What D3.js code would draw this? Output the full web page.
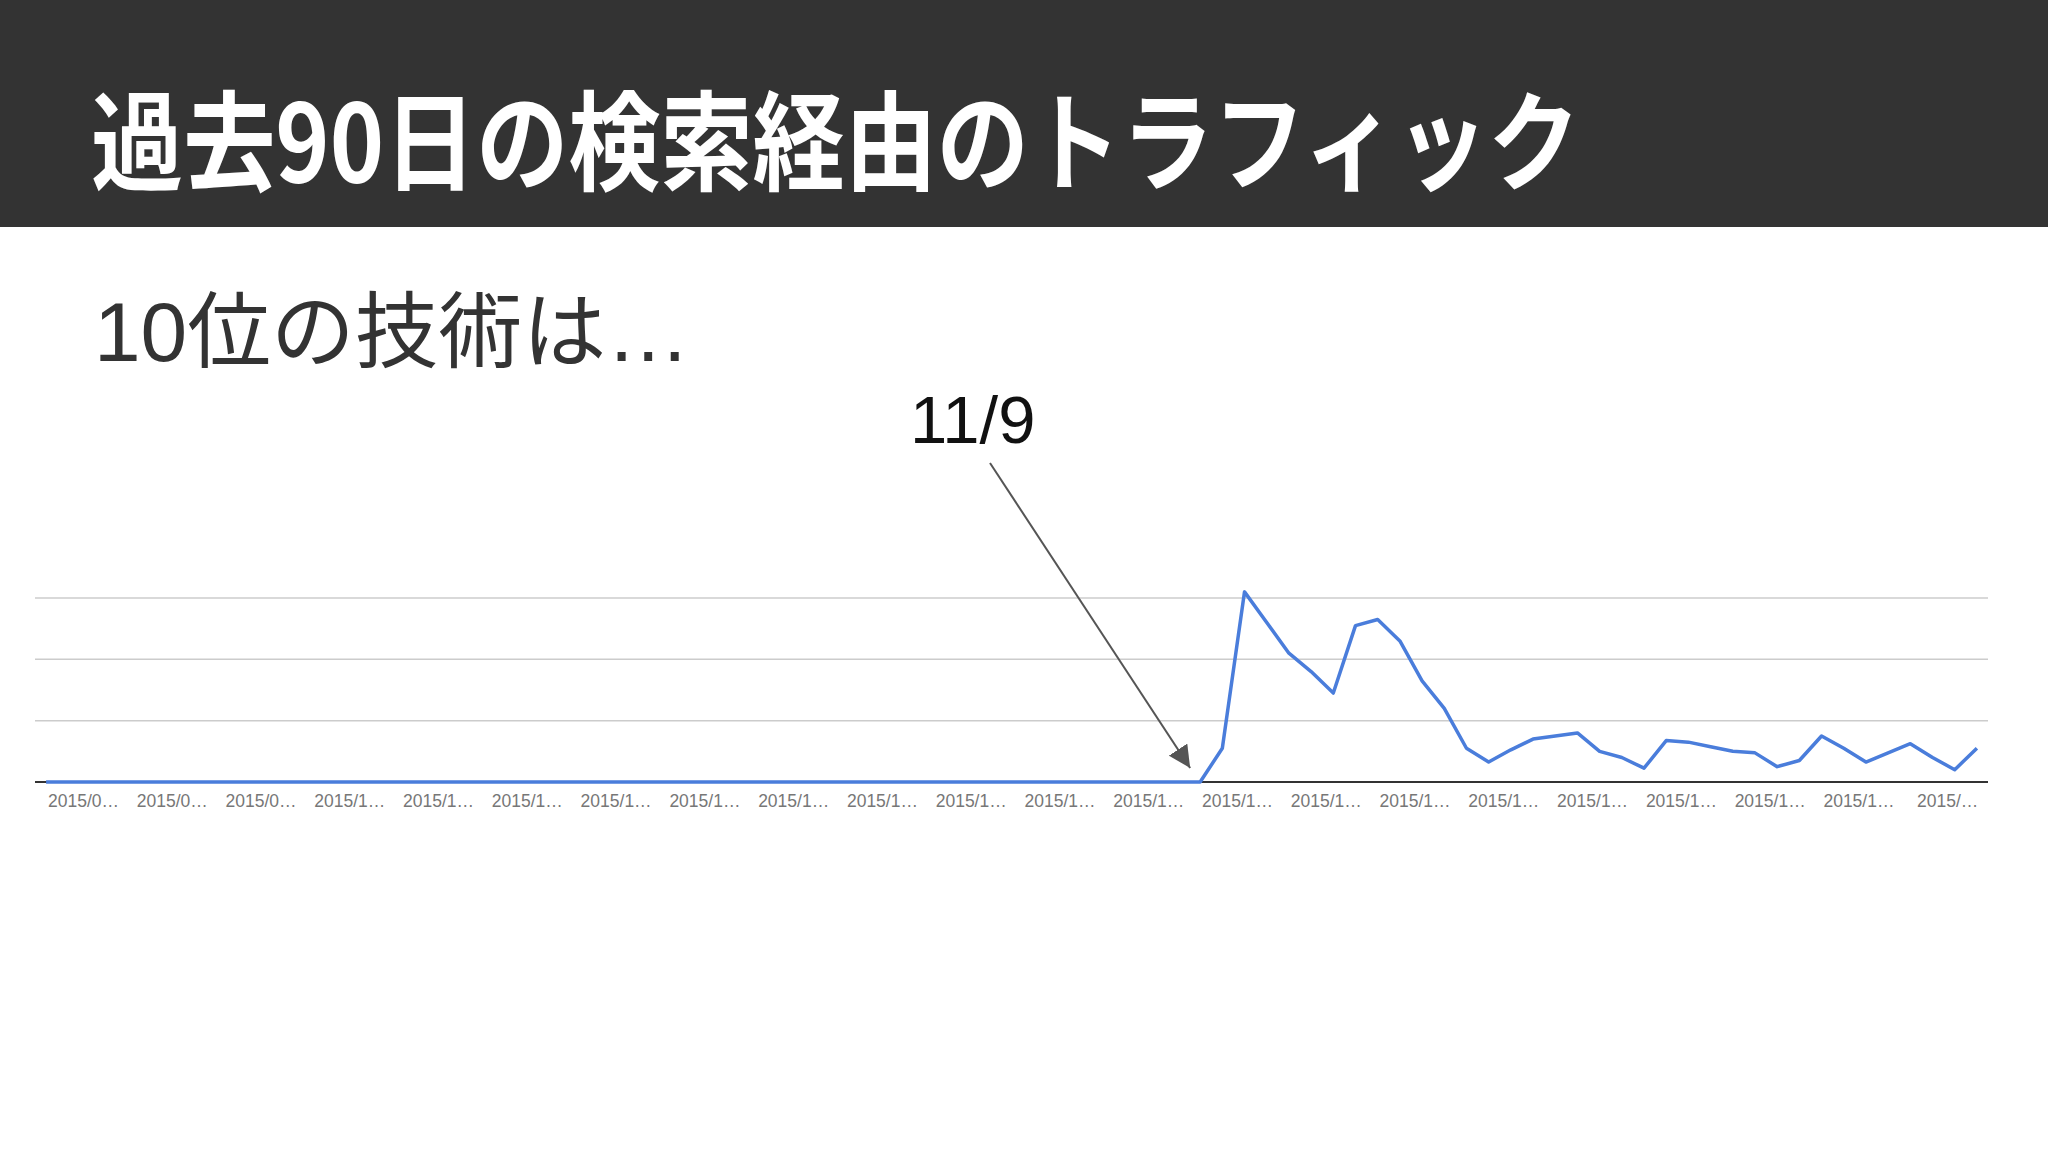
<!DOCTYPE html>
<html>
<head>
<meta charset="utf-8">
<script src="https://cdn.jsdelivr.net/npm/d3@7"></script>
<style>
body { margin: 0; background: #fff; }
</style>
</head>
<body>
<div id="mainArea"></div>
<script>
// slide texts
var titleText = "過去90日の検索経由のトラフィック";
var subText = "10位の技術は…";
var noteText = "11/9";

// daily search traffic, 88 days (zero until 11/9)
var visits = [
  0, 0, 0, 0, 0, 0, 0, 0, 0, 0,
  0, 0, 0, 0, 0, 0, 0, 0, 0, 0,
  0, 0, 0, 0, 0, 0, 0, 0, 0, 0,
  0, 0, 0, 0, 0, 0, 0, 0, 0, 0,
  0, 0, 0, 0, 0, 0, 0, 0, 0, 0,
  0, 0, 0, 11, 62, 52, 42, 36, 29, 51,
  53, 46, 33, 24, 11, 6.5, 10.5, 14, 15, 16,
  10, 8, 4.5, 13.5, 13, 11.5, 10, 9.5, 5, 7,
  15, 11, 6.5, 9.5, 12.5, 8, 4, 11
];

// tick labels, one every 4 days (already cut off like in analytics)
var tickLabels = [
  "2015/0…", "2015/0…", "2015/0…", "2015/1…", "2015/1…", "2015/1…",
  "2015/1…", "2015/1…", "2015/1…", "2015/1…", "2015/1…", "2015/1…",
  "2015/1…", "2015/1…", "2015/1…", "2015/1…", "2015/1…", "2015/1…",
  "2015/1…", "2015/1…", "2015/1…", "2015/…"
];
var gridValues = [20, 40, 60];
var noteDay = 52; // index of 11/9

function mainInit()
{
  var width = 2048,
      height = 1152;

  var vis = d3.select("#mainArea")
      .append("svg")
      .attr("width", width)
      .attr("height", height);

  // dark header bar
  vis.append("rect")
     .attr("x", 0).attr("y", 0)
     .attr("width", width).attr("height", 227)
     .attr("fill", "#333333");

  vis.append("text")
     .attr("x", 91).attr("y", 182)
     .attr("textLength", 1489)
     .attr("lengthAdjust", "spacingAndGlyphs")
     .style("font-family", "'Noto Sans CJK JP', sans-serif")
     .style("font-weight", "bold")
     .style("font-size", "108px")
     .attr("fill", "#ffffff")
     .text(titleText);

  // digits and dots come out in the Arial-ish font, kanji fall back to CJK
  vis.append("text")
     .attr("x", 94).attr("y", 361)
     .attr("textLength", 596)
     .attr("lengthAdjust", "spacingAndGlyphs")
     .style("font-family", "'Liberation Sans', 'Noto Sans CJK JP', sans-serif")
     .style("font-size", "83px")
     .attr("fill", "#333333")
     .text(subText);

  // chart scales
  var x = d3.scaleBand()
      .domain(d3.range(visits.length))
      .range([35, 1988]);
  var y = d3.scaleLinear()
      .domain([0, 60])
      .range([782, 598]);
  var bw = x.bandwidth();

  // gridlines
  vis.selectAll("line.grid")
     .data(gridValues)
     .enter()
     .append("line")
     .attr("class", "grid")
     .attr("x1", 35).attr("x2", 1988)
     .attr("y1", function(d) { return y(d); })
     .attr("y2", function(d) { return y(d); })
     .style("stroke", "#cccccc")
     .style("stroke-width", 1.5);

  // baseline
  vis.append("line")
     .attr("x1", 35).attr("x2", 1988)
     .attr("y1", y(0)).attr("y2", y(0))
     .style("stroke", "#333333")
     .style("stroke-width", 2);

  // x labels
  vis.selectAll("text.tick")
     .data(tickLabels)
     .enter()
     .append("text")
     .attr("class", "tick")
     .attr("x", function(d, i) { return x(i * 4 + 2) + bw / 2 - 7; })
     .attr("y", 807)
     .attr("text-anchor", "middle")
     .style("font-family", "'Liberation Sans', Arial, sans-serif")
     .style("font-size", "17.5px")
     .attr("fill", "#777777")
     .text(function(d) { return d; });

  // the traffic line
  var line = d3.line()
      .x(function(d, i) { return x(i) + bw / 2; })
      .y(function(d) { return y(d); });

  vis.append("path")
     .datum(visits)
     .attr("d", line)
     .attr("fill", "none")
     .style("stroke", "#4a7ddb")
     .style("stroke-width", 3.5)
     .style("stroke-linejoin", "round");

  // annotation for 11/9
  vis.append("text")
     .attr("x", 910).attr("y", 443)
     .style("font-family", "'Liberation Sans', Arial, sans-serif")
     .style("font-size", "67px")
     .attr("fill", "#111111")
     .text(noteText);

  vis.append("defs").append("marker")
     .attr("id", "arrowHead")
     .attr("viewBox", "0 0 10 10")
     .attr("refX", 10).attr("refY", 5)
     .attr("markerWidth", 22).attr("markerHeight", 22)
     .attr("markerUnits", "userSpaceOnUse")
     .attr("orient", "auto")
     .append("path")
     .attr("d", "M0,0 L10,5 L0,10 z")
     .attr("fill", "#555555");

  var tipX = x(noteDay) + bw / 2 - 10;
  vis.append("line")
     .attr("x1", 990).attr("y1", 463)
     .attr("x2", tipX).attr("y2", y(0) - 14)
     .style("stroke", "#555555")
     .style("stroke-width", 2)
     .attr("marker-end", "url(#arrowHead)");
};

window.onload = mainInit;
</script>
</body>
</html>
